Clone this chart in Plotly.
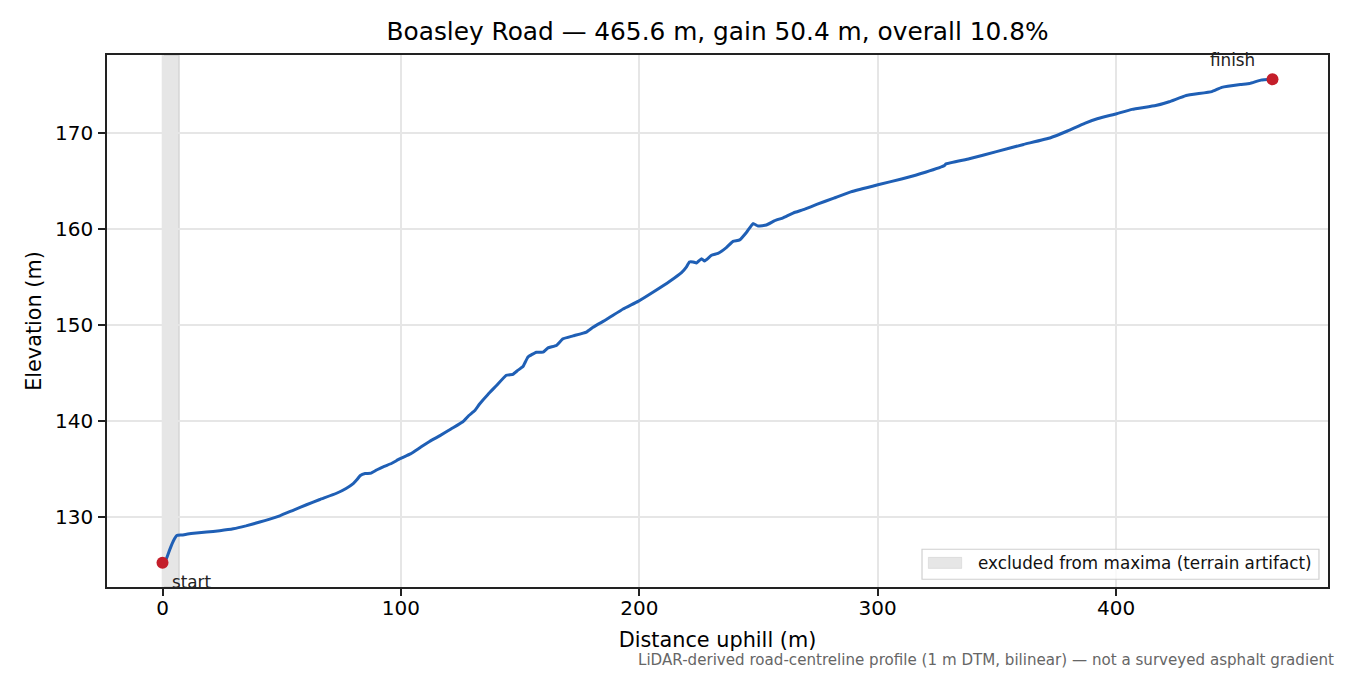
import plotly.graph_objects as go

# road-centreline profile
DIST_M = [
    0, 1.5, 3, 4.5, 6, 8, 12, 18.5, 24, 29.7, 35, 40.8, 45, 49.2, 55, 60.4,
    66, 73, 77, 80, 81.5, 83, 85, 87.5, 90, 93, 96, 99.6, 104, 108, 112,
    116.4, 121, 126, 128.5, 130.9, 133, 136.5, 140, 144.2, 147, 149, 151.2,
    153.3, 156.8, 159.6, 161.7, 165.2, 168, 172.2, 177.8, 180.6, 186.2,
    193.2, 199.5, 205.7, 212.8, 217.7, 219.8, 221, 222.5, 224, 226.1, 227.4,
    230.3, 233, 236.5, 239.3, 242.1, 245, 247.7, 249.8, 253.3, 256.8, 260.3,
    264.5, 269.4, 274.4, 281.6, 288.7, 300.1, 310, 320, 328, 328.5, 338.4,
    349.8, 361.2, 372.5, 379.6, 386.8, 392.4, 400.2, 406.7, 416.6, 422.3,
    429.4, 440.1, 444.3, 452.1, 456, 460.7, 465.6,
]
ELEV_M = [
    125.25, 125.6, 126.6, 127.5, 128.1, 128.15, 128.3, 128.45, 128.6, 128.8,
    129.1, 129.5, 129.8, 130.15, 130.75, 131.3, 131.85, 132.5, 133.0, 133.5,
    133.9, 134.35, 134.55, 134.6, 134.95, 135.3, 135.6, 136.1, 136.6, 137.25,
    137.9, 138.5, 139.2, 139.95, 140.6, 141.1, 141.8, 142.8, 143.7, 144.8,
    144.9, 145.3, 145.7, 146.7, 147.2, 147.2, 147.65, 147.9, 148.6, 148.9,
    149.3, 149.8, 150.6, 151.7, 152.5, 153.45, 154.6, 155.5, 156.1, 156.6,
    156.6, 156.5, 156.95, 156.7, 157.3, 157.5, 158.1, 158.75, 158.9, 159.7,
    160.6, 160.35, 160.45, 160.9, 161.2, 161.7, 162.1, 162.6, 163.25, 163.9,
    164.65, 165.25, 165.95, 166.65, 166.8, 167.35, 168.1, 168.85, 169.55,
    170.25, 171.05, 171.55, 172.05, 172.5, 172.9, 173.3, 173.95, 174.35,
    174.8, 175.1, 175.2, 175.55, 175.65,
]
EXCLUDED = [0.0, 7.0]  # terrain artifact band (m)
X_TICKS = [0, 100, 200, 300, 400]
Y_TICKS = [130, 140, 150, 160, 170]

TITLE = "Boasley Road — 465.6 m, gain 50.4 m, overall 10.8%"
LEGEND_TEXT = "excluded from maxima (terrain artifact)"
NOTE = ("LiDAR-derived road-centreline profile (1 m DTM, bilinear) — "
        "not a surveyed asphalt gradient")

LINE = "#1f5fb5"
RED = "#c41e2a"
BAND = "rgba(128,128,128,0.2)"
FONT = "DejaVu Sans"


def padded(lo, hi, frac=0.05):
    span = hi - lo
    return [lo - span * frac, hi + span * frac]


x_range = padded(min(DIST_M), max(DIST_M))
y_range = padded(min(ELEV_M), max(ELEV_M))

fig = go.Figure()

fig.add_vrect(x0=EXCLUDED[0], x1=EXCLUDED[1], fillcolor=BAND,
              line={"color": "rgba(128,128,128,0.22)", "width": 1.5},
              layer="below")

fig.add_trace(go.Scatter(
    x=DIST_M, y=ELEV_M, mode="lines",
    line={"color": LINE, "width": 3, "shape": "spline", "smoothing": 0.3},
))

fig.add_trace(go.Scatter(
    x=[DIST_M[0], DIST_M[-1]], y=[ELEV_M[0], ELEV_M[-1]], mode="markers",
    marker={"color": RED, "size": 12},
))

fig.add_annotation(x=DIST_M[0], y=ELEV_M[0], text="start", showarrow=False,
                   xanchor="left", yanchor="middle", xshift=7, yshift=-19,
                   font={"size": 16.8, "color": "#222"})
fig.add_annotation(x=DIST_M[-1], y=ELEV_M[-1], text="finish", showarrow=False,
                   xanchor="right", yanchor="middle", xshift=-16, yshift=19,
                   font={"size": 16.8, "color": "#222"})
fig.add_annotation(xref="paper", yref="paper", x=1.0066, y=-0.137,
                   text=NOTE, showarrow=False, xanchor="right", yanchor="middle",
                   font={"size": 15.1, "color": "#666666"})

# legend box drawn by hand, matplotlib style (wide patch + text)
fig.add_shape(type="rect", xref="paper", yref="paper",
              x0=0.6675, x1=0.9926, y0=0.0146, y1=0.0710,
              fillcolor="rgba(255,255,255,0.8)",
              line={"color": "#d0d0d0", "width": 1.2})
fig.add_shape(type="rect", xref="paper", yref="paper",
              x0=0.6727, x1=0.7000, y0=0.0350, y1=0.0557,
              fillcolor=BAND, line={"color": "rgba(128,128,128,0.15)", "width": 1})
fig.add_annotation(xref="paper", yref="paper", x=0.7117, y=0.0453,
                   text=LEGEND_TEXT, showarrow=False, xanchor="left",
                   yanchor="middle", font={"size": 16.8, "color": "#111"})

fig.update_layout(
    width=1350,
    height=675,
    title={"text": TITLE, "x": 0.5, "xanchor": "center", "xref": "paper",
           "y": 0.954, "yanchor": "middle", "font": {"size": 24.8, "color": "black"}},
    margin={"l": 107, "r": 22, "t": 55, "b": 88},
    font={"family": FONT, "size": 20, "color": "black"},
    plot_bgcolor="white",
    paper_bgcolor="white",
    showlegend=False,
)
fig.update_xaxes(
    range=x_range, tickvals=X_TICKS, showgrid=True, gridcolor="#e6e6e6",
    gridwidth=1.5, zeroline=False, showline=True, linecolor="#222",
    linewidth=1.7, mirror=True, ticks="outside", ticklen=7, tickwidth=1.7,
    tickcolor="#222", ticklabelstandoff=-5,
    title={"text": "Distance uphill (m)", "standoff": 14, "font": {"size": 20.8}},
)
fig.update_yaxes(
    range=y_range, tickvals=Y_TICKS, showgrid=True, gridcolor="#e6e6e6",
    gridwidth=1.5, zeroline=False, showline=True, linecolor="#222",
    linewidth=1.7, mirror=True, ticks="outside", ticklen=7, tickwidth=1.7,
    tickcolor="#222", ticklabelstandoff=1,
    title={"text": "Elevation (m)", "standoff": 8, "font": {"size": 20.8}},
)

fig.write_html("out.html", config={"displayModeBar": False},
               post_script="document.body.style.margin='0';")
